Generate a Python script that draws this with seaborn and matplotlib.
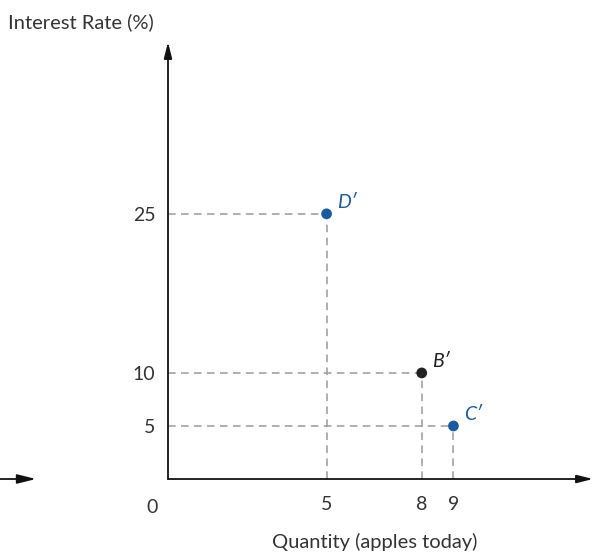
import matplotlib
matplotlib.use("Agg")
import matplotlib.pyplot as plt
import seaborn as sns
import pandas as pd

# points
points = ["D′", "B′", "C′"]
quantity = [5, 8, 9]
rate = [25, 10, 5]
point_colors = ["#1a5aa0", "#222222", "#1a5aa0"]

x_ticks = [0, 5, 8, 9]
y_ticks = [5, 10, 25]

sns.set_theme(style="white")
plt.rcParams['font.family'] = ['Lato', 'DejaVu Sans']

df = pd.DataFrame({"point": points, "quantity": quantity, "rate": rate})

fig = plt.figure(figsize=(5.94, 5.53), dpi=100)
ax = fig.add_axes([168 / 594, 74 / 553, 425 / 594, 437 / 553])
ax.set_xlim(0, 13.4)
ax.set_ylim(0, 41.2)

# dashed guides
for q, r in zip(quantity, rate):
    ax.plot([0, q], [r, r], ls=(0, (5, 3.5)), color="#9a9a9a", lw=1.1, zorder=1)
    ax.plot([q, q], [0, r], ls=(0, (5, 3.5)), color="#9a9a9a", lw=1.1, zorder=1)

sns.scatterplot(data=df, x="quantity", y="rate", hue="point",
                palette=dict(zip(points, point_colors)), s=60,
                edgecolor="none", legend=False, ax=ax, zorder=3)

for name, q, r, c in zip(points, quantity, rate, point_colors):
    ax.annotate(name, (q, r), xytext=(7.5, 2), textcoords="offset points",
                fontsize=14, style="italic", color=c, va="bottom")

for s in ax.spines.values():
    s.set_visible(False)

# axes with arrowheads
arrow = dict(arrowstyle="-|>,head_length=0.8,head_width=0.2", color="#111111", lw=1.3,
             shrinkA=0, shrinkB=0)
ax.annotate("", xy=(1.0, 0), xytext=(0, 0), xycoords="axes fraction", arrowprops=arrow)
ax.annotate("", xy=(0, 1.0), xytext=(0, 0), xycoords="axes fraction", arrowprops=arrow)
# stray arrow at the left edge
fig.patches.append(matplotlib.patches.FancyArrowPatch(
    (0, 1 - 479 / 553), (36 / 594, 1 - 479 / 553), transform=fig.transFigure,
    arrowstyle="-|>,head_length=0.8,head_width=0.2", color="#111111", lw=1.3,
    shrinkA=0, shrinkB=0, mutation_scale=14))

ax.set_xticks(x_ticks[1:])
ax.set_yticks(y_ticks)
ax.tick_params(length=0, labelsize=14, colors="#333333", pad=9)
ax.tick_params(axis="x", pad=12)
ax.set_xlabel("")
ax.set_ylabel("")
ax.text(-0.5, -1.9, "0", ha="center", va="top", fontsize=14, color="#333333")

fig.text(375 / 594, 1 - 542 / 553, "Quantity (apples today)", ha="center", va="center",
         fontsize=14.5, color="#333333")
fig.text(8 / 594, 1 - 22 / 553, "Interest Rate (%)", ha="left", va="center",
         fontsize=14.5, color="#333333")

fig.savefig("out.png", dpi=100)
